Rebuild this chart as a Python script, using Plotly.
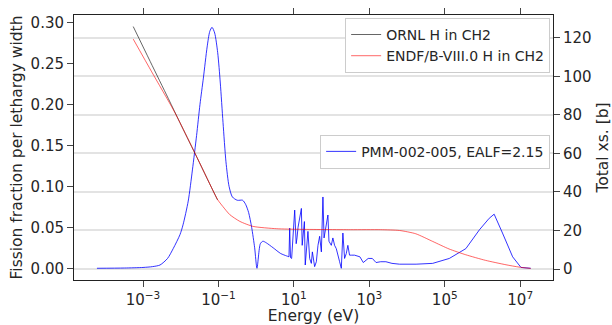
import plotly.graph_objects as go

# ---- data ----
# Fission fraction per lethargy width, PMM-002-005 (left axis)
pmm_energy = [6.0e-5, 3.2e-4, 1.0e-3, 1.78e-3, 2.82e-3, 4.47e-3, 6.31e-3, 9.55e-3, 0.0115, 0.0158,
              0.0204, 0.0263, 0.0324, 0.0398, 0.0501, 0.0589, 0.0676, 0.0794, 0.0955, 0.112,
              0.132, 0.158, 0.191, 0.234, 0.316, 0.437, 0.525, 0.631, 0.759, 0.912,
              1.05, 1.29, 1.51, 1.86, 2.82, 4.47, 6.46, 7.41, 7.74, 8.13,
              8.71, 10.5, 11.5, 12.1, 12.9, 15.8, 16.6, 19.0, 20.0, 23.6,
              26.2, 29.0, 30.9, 35.5, 39.4, 43.5, 48.2, 53.5, 58.9, 63.1,
              72.4, 79.8, 85.1, 98.2, 108, 120, 133, 147, 163, 181,
              199, 221, 245, 270, 299, 332, 406, 562, 692, 933,
              1200, 1510, 2000, 2750, 3980, 6310, 17400, 47900, 1.32e5, 3.63e5,
              8.32e5, 1.51e6, 2.04e6, 3.39e6, 6.31e6, 1.05e7, 1.9e7]
pmm_fraction = [0.0, 0.0003, 0.001, 0.002, 0.004, 0.012, 0.024, 0.041, 0.053, 0.082,
                0.12, 0.162, 0.200, 0.232, 0.270, 0.289, 0.294, 0.287, 0.263, 0.226,
                0.178, 0.130, 0.100, 0.087, 0.083, 0.083, 0.078, 0.068, 0.050, 0.025,
                0.0, 0.030, 0.033, 0.031, 0.025, 0.018, 0.015, 0.014, 0.049, 0.013,
                0.012, 0.071, 0.030, 0.037, 0.050, 0.073, 0.028, 0.057, 0.004, 0.045,
                0.012, 0.006, 0.020, 0.002, 0.008, 0.028, 0.039, 0.020, 0.087, 0.037,
                0.051, 0.065, 0.033, 0.028, 0.037, 0.028, 0.024, 0.014, 0.008, 0.0,
                0.043, 0.012, 0.018, 0.028, 0.016, 0.016, 0.016, 0.014, 0.007, 0.012,
                0.012, 0.007, 0.008, 0.008, 0.006, 0.005, 0.005, 0.006, 0.012, 0.024,
                0.047, 0.061, 0.066, 0.043, 0.014, 0.001, 0.0]
# index where the smooth thermal part ends and the resonance region begins
pmm_split = 37

# Total cross section, ORNL H in CH2 (right axis)
ornl_energy = [5.5e-4, 1.55e-3, 4.7e-3, 9.5e-3, 0.024, 0.072, 0.095]
ornl_xs = [125.8, 107.7, 88.4, 76.0, 59.9, 40.6, 35.8]

# Total cross section, ENDF/B-VIII.0 H in CH2 (right axis)
endf_energy = [5.5e-4, 1.7e-3, 6.3e-3, 9.5e-3, 0.024, 0.072, 0.095, 0.13, 0.2, 0.37,
               0.83, 3.5, 14, 320, 2000, 6300, 17000, 48000, 1.3e5, 3.6e5,
               1.2e6, 4.2e6, 9.3e6, 1.9e7]
endf_xs = [119.3, 102.3, 82.8, 76.0, 60.0, 40.6, 36.0, 32.5, 28.2, 24.7,
           22.1, 20.9, 20.6, 20.4, 20.4, 20.0, 18.3, 14.3, 10.4, 7.4,
           4.5, 2.2, 1.0, 0.3]

x_tick_vals = [1e-3, 1e-1, 1e1, 1e3, 1e5, 1e7]
x_tick_text = ["10<sup>\u22123</sup>", "10<sup>\u22121</sup>", "10<sup>1</sup>",
               "10<sup>3</sup>", "10<sup>5</sup>", "10<sup>7</sup>"]
left_ticks = [0.0, 0.05, 0.10, 0.15, 0.20, 0.25, 0.30]
right_ticks = [0, 20, 40, 60, 80, 100, 120]

FONT = "DejaVu Sans"
TXT = "#262626"
TICK_SIZE = 15
TITLE_SIZE = 15.5

BLUE = "rgba(0,0,255,0.8)"

fig = go.Figure()
fig.add_trace(go.Scatter(x=pmm_energy[:pmm_split + 1], y=pmm_fraction[:pmm_split + 1], mode="lines",
                         name="PMM-002-005, EALF=2.15",
                         line=dict(color=BLUE, width=1, shape="spline", smoothing=0.7),
                         legend="legend2", yaxis="y"))
fig.add_trace(go.Scatter(x=pmm_energy[pmm_split:], y=pmm_fraction[pmm_split:], mode="lines",
                         name="PMM-002-005, EALF=2.15", showlegend=False,
                         line=dict(color=BLUE, width=1),
                         legend="legend2", yaxis="y"))
fig.add_trace(go.Scatter(x=ornl_energy, y=ornl_xs, mode="lines", name="ORNL H in CH2",
                         line=dict(color="rgba(0,0,0,0.6)", width=1, shape="spline", smoothing=0.8),
                         yaxis="y2", legend="legend"))
fig.add_trace(go.Scatter(x=endf_energy, y=endf_xs, mode="lines", name="ENDF/B-VIII.0 H in CH2",
                         line=dict(color="rgba(255,0,0,0.6)", width=1, shape="spline", smoothing=0.6),
                         yaxis="y2", legend="legend"))

axis_common = dict(showline=True, linecolor="#222", linewidth=1, ticks="outside",
                   ticklen=6, tickwidth=1, tickcolor="#444", automargin=False,
                   tickfont=dict(family=FONT, size=TICK_SIZE, color=TXT), zeroline=False)

fig.update_layout(
    width=612, height=325,
    margin=dict(l=74, r=59, t=15, b=45),
    paper_bgcolor="white", plot_bgcolor="white",
    font=dict(family=FONT, size=14, color=TXT),
    xaxis=dict(type="log", range=[-4.83, 7.87], tickvals=x_tick_vals, ticktext=x_tick_text,
               showgrid=False, mirror="ticks",
               title=dict(text="Energy (eV)", standoff=6,
                          font=dict(family=FONT, size=TITLE_SIZE, color=TXT)),
               **axis_common),
    yaxis=dict(range=[-0.0143, 0.309], tickvals=left_ticks, tickformat=".2f", showgrid=False,
               title=dict(text="Fission fraction per lethargy width", standoff=4,
                          font=dict(family=FONT, size=TITLE_SIZE, color=TXT)),
               **axis_common),
    yaxis2=dict(range=[-5.7, 131.8], tickvals=right_ticks, overlaying="y", side="right",
                showgrid=True, gridcolor="#e3e3e3", gridwidth=1.5,
                title=dict(text="Total xs. [b]", standoff=6,
                           font=dict(family=FONT, size=TITLE_SIZE, color=TXT)),
                **axis_common),
    legend=dict(x=0.994, y=0.989, xanchor="right", yanchor="top", bgcolor="white",
                bordercolor="#cccccc", borderwidth=1, font=dict(family=FONT, size=14, color=TXT),
                tracegroupgap=0),
    legend2=dict(x=0.994, y=0.548, xanchor="right", yanchor="top", bgcolor="white",
                 bordercolor="#cccccc", borderwidth=1, font=dict(family=FONT, size=14, color=TXT),
                 tracegroupgap=0),
)

fig.write_html("out.html", config={"displayModeBar": False},
               post_script="document.body.style.margin='0';document.body.style.overflow='hidden';")
